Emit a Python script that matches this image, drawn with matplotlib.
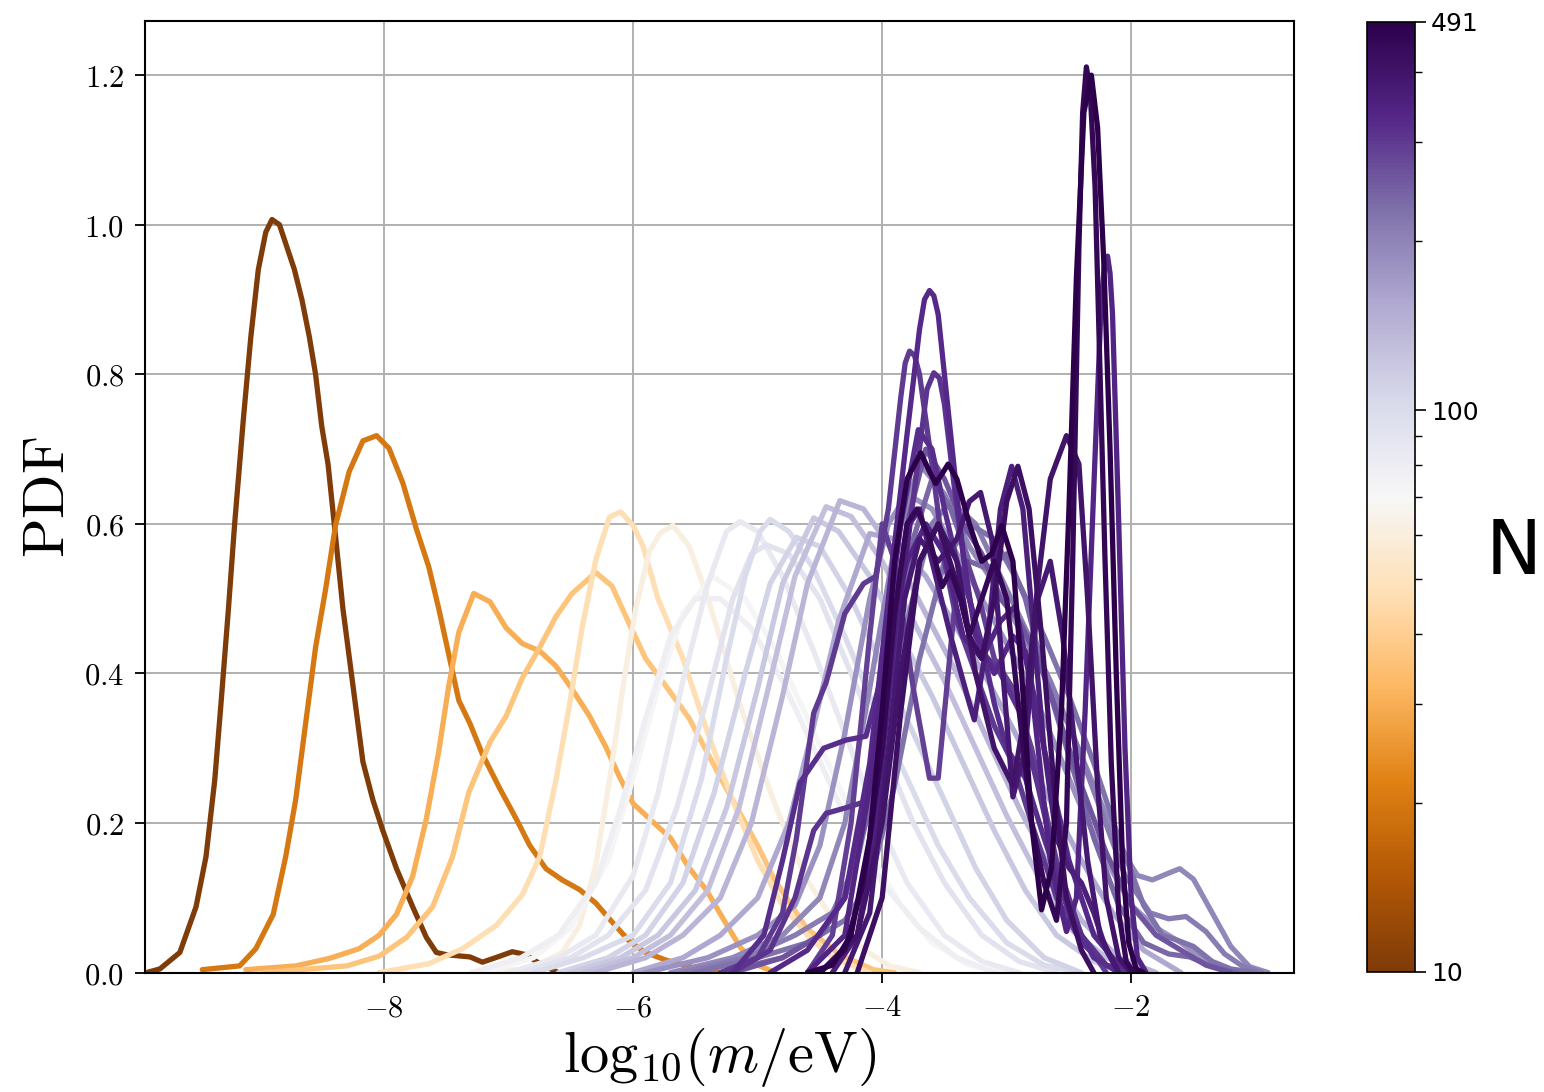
import matplotlib
matplotlib.use('Agg')
import matplotlib.pyplot as plt
from matplotlib.colors import LogNorm
from matplotlib.cm import ScalarMappable
from matplotlib.ticker import FuncFormatter, LogLocator

plt.rcParams['mathtext.fontset'] = 'cm'

# number of objects N for every curve (sets the colour)
curve_n = [10, 20, 30, 36, 47, 62,
           72, 78, 85, 92, 100, 110, 120, 130, 140, 155,
           180, 195, 210, 225, 240, 260,
           290, 300, 310, 320, 330, 340, 360, 380, 400, 420, 450, 491]

# log10(m/eV) positions, one list per curve
curve_x = [
    [-9.91, -9.8, -9.64, -9.51, -9.43, -9.36, -9.31, -9.25, -9.2, -9.13, -9.07, -9.01, -8.95, -8.9, -8.84,
     -8.78, -8.72, -8.66, -8.6, -8.55, -8.5, -8.45, -8.4, -8.33, -8.25, -8.17, -8.09, -8.01, -7.9, -7.77,
     -7.66, -7.58, -7.5, -7.31, -7.21, -7.07, -6.97, -6.86, -6.75, -6.6],
    [-9.46, -9.16, -9.03, -8.89, -8.79, -8.71, -8.63, -8.55, -8.47, -8.39, -8.28, -8.17, -8.06, -7.96, -7.85,
     -7.74, -7.64, -7.56, -7.48, -7.4, -7.31, -7.21, -7.07, -6.94, -6.83, -6.7, -6.57, -6.43, -6.3, -6.17,
     -6.03, -5.9, -5.74, -5.5, -5.3],
    [-9.11, -8.71, -8.44, -8.2, -8.04, -7.9, -7.77, -7.66, -7.56, -7.48, -7.4, -7.28, -7.15, -7.02, -6.89,
     -6.75, -6.62, -6.49, -6.35, -6.22, -6.11, -6.0, -5.87, -5.7, -5.55, -5.41, -5.27, -5.14, -5.0, -4.87],
    [-8.97, -8.3, -8.04, -7.82, -7.61, -7.45, -7.32, -7.15, -7.02, -6.89, -6.75, -6.62, -6.49, -6.3, -6.17,
     -6.03, -5.9, -5.74, -5.55, -5.28, -5.0, -4.87, -4.61, -4.34, -4.07, -3.9],
    [-8.04, -7.64, -7.37, -7.1, -6.89, -6.75, -6.62, -6.51, -6.41, -6.3, -6.19, -6.1, -6.0, -5.92, -5.8,
     -5.6, -5.4, -5.2, -5.0, -4.8, -4.6, -4.4, -4.1],
    [-7.3, -6.83, -6.57, -6.43, -6.3, -6.19, -6.08, -5.98, -5.87, -5.78, -5.68, -5.55, -5.41, -5.27, -5.14,
     -5.0, -4.87, -4.74, -4.61, -4.47, -4.34, -4.14, -3.94, -3.7],
    # pale lavender group
    [-7.2, -6.8, -6.5, -6.2, -6.0, -5.8, -5.6, -5.36, -5.1, -4.85, -4.6, -4.35, -4.1, -3.85, -3.6, -3.3, -3.0],
    [-7.3, -6.9, -6.6, -6.3, -6.1, -5.9, -5.7, -5.5, -5.3, -5.05, -4.8, -4.55, -4.3, -4.0, -3.7, -3.4, -3.1],
    [-7.0, -6.6, -6.3, -6.0, -5.8, -5.6, -5.4, -5.25, -5.14, -5.0, -4.8, -4.55, -4.3, -4.05, -3.8, -3.5,
     -3.2, -2.9],
    [-6.9, -6.5, -6.2, -5.9, -5.65, -5.4, -5.2, -5.05, -4.93, -4.75, -4.5, -4.25, -4.0, -3.75, -3.5, -3.2,
     -2.9, -2.6],
    [-6.8, -6.4, -6.0, -5.7, -5.45, -5.25, -5.1, -4.98, -4.9, -4.75, -4.55, -4.3, -4.05, -3.8, -3.55, -3.3,
     -3.0, -2.7, -2.4],
    [-6.6, -6.2, -5.9, -5.6, -5.35, -5.1, -4.9, -4.69, -4.5, -4.25, -4.0, -3.75, -3.5, -3.25, -3.0, -2.7, -2.4],
    [-6.5, -6.1, -5.8, -5.5, -5.25, -5.0, -4.8, -4.55, -4.35, -4.1, -3.85, -3.6, -3.35, -3.1, -2.85, -2.6,
     -2.3, -2.0],
    [-6.4, -6.0, -5.7, -5.4, -5.15, -4.9, -4.7, -4.45, -4.25, -4.0, -3.75, -3.5, -3.25, -3.0, -2.75, -2.5,
     -2.2, -1.9],
    [-6.3, -5.9, -5.6, -5.3, -5.05, -4.8, -4.6, -4.34, -4.15, -3.9, -3.65, -3.4, -3.15, -2.9, -2.65, -2.4,
     -2.1, -1.8],
    [-6.0, -5.6, -5.3, -5.0, -4.75, -4.55, -4.35, -4.1, -3.9, -3.65, -3.4, -3.15, -2.9, -2.65, -2.4, -2.15,
     -1.9, -1.6],
    # medium purple group
    [-5.9, -5.4, -5.0, -4.7, -4.5, -4.3, -4.1, -3.95, -3.8, -3.6, -3.4, -3.2, -3.0, -2.8, -2.6, -2.4, -2.2,
     -2.0, -1.8, -1.6, -1.4, -1.2],
    [-5.7, -5.2, -4.8, -4.5, -4.3, -4.1, -3.9, -3.7, -3.5, -3.3, -3.1, -2.9, -2.7, -2.5, -2.3, -2.1, -1.95,
     -1.83, -1.7, -1.61, -1.5, -1.35, -1.2, -1.05, -0.9],
    [-5.6, -5.1, -4.7, -4.4, -4.2, -4.0, -3.8, -3.6, -3.45, -3.25, -3.05, -2.85, -2.65, -2.45, -2.25, -2.05,
     -1.85, -1.7, -1.56, -1.4, -1.25, -1.1, -0.95],
    [-5.5, -5.0, -4.6, -4.3, -4.1, -3.9, -3.7, -3.5, -3.3, -3.1, -2.9, -2.7, -2.5, -2.3, -2.1, -1.9, -1.75,
     -1.64, -1.5, -1.35, -1.2, -1.0],
    [-5.3, -4.8, -4.5, -4.3, -4.1, -3.9, -3.75, -3.6, -3.45, -3.3, -3.15, -3.0, -2.85, -2.7, -2.5, -2.3, -2.1,
     -1.9, -1.7, -1.53, -1.35, -1.15],
    [-5.2, -4.8, -4.5, -4.3, -4.1, -3.95, -3.8, -3.65, -3.5, -3.35, -3.2, -3.05, -2.9, -2.75, -2.6, -2.4, -2.2,
     -2.0, -1.8, -1.6, -1.4, -1.2],
    # dark purple group
    [-4.6, -4.4, -4.25, -4.1, -4.0, -3.9, -3.75, -3.62, -3.55, -3.47, -3.4, -3.32, -3.22, -3.1, -2.95, -2.8,
     -2.6, -2.4, -2.2],
    [-5.3, -5.0, -4.8, -4.69, -4.55, -4.45, -4.3, -4.15, -4.05, -3.95, -3.85, -3.815, -3.78, -3.74, -3.7,
     -3.6, -3.5, -3.4, -3.25, -3.1, -2.95, -2.8, -2.6, -2.4, -2.2, -2.0],
    [-5.2, -4.9, -4.7, -4.55, -4.45, -4.3, -4.13, -4.0, -3.85, -3.7, -3.64, -3.585, -3.54, -3.5, -3.4, -3.3,
     -3.2, -3.05, -2.9, -2.75, -2.6, -2.4, -2.2, -2.0],
    [-5.2, -4.95, -4.8, -4.66, -4.47, -4.29, -4.13, -4.0, -3.85, -3.71, -3.6, -3.5, -3.4, -3.3, -3.2, -3.1,
     -3.0, -2.85, -2.7, -2.5, -2.3, -2.1],
    [-4.9, -4.6, -4.3, -4.1, -3.95, -3.8, -3.7, -3.66, -3.62, -3.585, -3.55, -3.45, -3.35, -3.25, -3.1, -2.95,
     -2.85, -2.7, -2.5, -2.3, -2.1, -1.9],
    [-4.6, -4.3, -4.1, -3.95, -3.8, -3.65, -3.5, -3.35, -3.2, -3.05, -2.93, -2.8, -2.65, -2.52, -2.44, -2.37,
     -2.3, -2.24, -2.215, -2.19, -2.17, -2.15, -2.1, -2.05, -2.0, -1.95, -1.88],
    [-4.4, -4.2, -4.05, -3.9, -3.78, -3.7, -3.6, -3.45, -3.3, -3.26, -3.15, -3.05, -2.96, -2.87, -2.78, -2.7,
     -2.6, -2.5, -2.4, -2.3, -2.2, -2.1],
    [-4.3, -4.1, -3.95, -3.82, -3.7, -3.55, -3.4, -3.3, -3.21, -3.12, -3.03, -2.95, -2.85, -2.75, -2.65, -2.55,
     -2.45, -2.35, -2.25, -2.1],
    [-4.5, -4.2, -4.0, -3.85, -3.7, -3.55, -3.4, -3.25, -3.1, -2.95, -2.85, -2.75, -2.65, -2.52, -2.42, -2.35,
     -2.27, -2.2, -2.1, -2.0],
    [-4.2, -4.0, -3.85, -3.7, -3.55, -3.4, -3.3, -3.2, -3.1, -3.0, -2.91, -2.82, -2.72, -2.62, -2.52, -2.4,
     -2.3],
    [-4.5, -4.3, -4.15, -4.0, -3.9, -3.8, -3.72, -3.62, -3.52, -3.45, -3.37, -3.3, -3.2, -3.1, -3.0, -2.9,
     -2.8, -2.7, -2.6, -2.52, -2.47, -2.42, -2.39, -2.36, -2.33, -2.29, -2.25, -2.21, -2.16, -2.1, -2.04,
     -1.98],
    [-4.6, -4.4, -4.25, -4.1, -4.0, -3.9, -3.8, -3.69, -3.62, -3.57, -3.5, -3.47, -3.4, -3.3, -3.2, -3.12,
     -3.04, -2.95, -2.88, -2.8, -2.72, -2.64, -2.56, -2.5, -2.44, -2.38, -2.32, -2.27, -2.22, -2.17, -2.12,
     -2.07, -2.02, -1.96, -1.9],
]

# PDF values at those positions
curve_y = [
    [0.0, 0.005, 0.027, 0.088, 0.155, 0.257, 0.359, 0.486, 0.6, 0.74, 0.85, 0.94, 0.99, 1.007, 1.0,
     0.97, 0.94, 0.9, 0.85, 0.8, 0.73, 0.68, 0.6, 0.486, 0.384, 0.282, 0.231, 0.19, 0.139, 0.088,
     0.047, 0.027, 0.024, 0.021, 0.014, 0.022, 0.028, 0.024, 0.012, 0.0],
    [0.004, 0.009, 0.032, 0.078, 0.155, 0.231, 0.333, 0.435, 0.512, 0.598, 0.67, 0.711, 0.718, 0.701, 0.655,
     0.593, 0.542, 0.486, 0.425, 0.364, 0.333, 0.292, 0.246, 0.206, 0.17, 0.139, 0.124, 0.111, 0.093, 0.068,
     0.042, 0.027, 0.017, 0.006, 0.0],
    [0.004, 0.009, 0.019, 0.032, 0.05, 0.078, 0.129, 0.206, 0.297, 0.384, 0.455, 0.507, 0.496, 0.461, 0.44,
     0.43, 0.41, 0.379, 0.343, 0.302, 0.262, 0.226, 0.206, 0.18, 0.14, 0.11, 0.07, 0.034, 0.01, 0.001],
    [0.0, 0.009, 0.022, 0.047, 0.088, 0.155, 0.241, 0.308, 0.343, 0.394, 0.435, 0.476, 0.507, 0.535, 0.517,
     0.466, 0.42, 0.384, 0.34, 0.255, 0.17, 0.126, 0.06, 0.024, 0.004, 0.0],
    [0.0, 0.012, 0.032, 0.063, 0.104, 0.155, 0.257, 0.359, 0.461, 0.552, 0.609, 0.616, 0.598, 0.57, 0.5,
     0.42, 0.32, 0.23, 0.15, 0.09, 0.05, 0.02, 0.0],
    [0.0, 0.005, 0.027, 0.063, 0.144, 0.257, 0.384, 0.486, 0.563, 0.588, 0.598, 0.57, 0.506, 0.43, 0.357,
     0.29, 0.229, 0.175, 0.126, 0.09, 0.06, 0.03, 0.009, 0.0],
    [0.0, 0.02, 0.06, 0.15, 0.26, 0.38, 0.48, 0.53, 0.5, 0.43, 0.34, 0.25, 0.16, 0.09, 0.04, 0.01, 0.0],
    [0.0, 0.02, 0.05, 0.12, 0.22, 0.34, 0.45, 0.5, 0.5, 0.46, 0.39, 0.3, 0.21, 0.12, 0.06, 0.02, 0.0],
    [0.0, 0.02, 0.05, 0.13, 0.24, 0.39, 0.52, 0.59, 0.603, 0.59, 0.53, 0.43, 0.32, 0.21, 0.12, 0.05,
     0.015, 0.0],
    [0.0, 0.02, 0.05, 0.11, 0.22, 0.37, 0.5, 0.56, 0.572, 0.56, 0.5, 0.4, 0.3, 0.2, 0.12, 0.05, 0.015, 0.0],
    [0.0, 0.02, 0.05, 0.12, 0.26, 0.42, 0.53, 0.59, 0.606, 0.59, 0.54, 0.45, 0.35, 0.26, 0.17, 0.1,
     0.04, 0.01, 0.0],
    [0.0, 0.02, 0.05, 0.12, 0.24, 0.4, 0.52, 0.582, 0.57, 0.5, 0.41, 0.32, 0.23, 0.14, 0.07, 0.02, 0.0],
    [0.0, 0.02, 0.05, 0.11, 0.22, 0.38, 0.52, 0.608, 0.59, 0.53, 0.45, 0.37, 0.28, 0.19, 0.11, 0.05,
     0.015, 0.0],
    [0.0, 0.02, 0.05, 0.11, 0.22, 0.39, 0.53, 0.623, 0.61, 0.55, 0.47, 0.39, 0.3, 0.21, 0.13, 0.06,
     0.02, 0.0],
    [0.0, 0.02, 0.05, 0.1, 0.2, 0.37, 0.52, 0.631, 0.62, 0.56, 0.48, 0.4, 0.31, 0.22, 0.14, 0.07,
     0.02, 0.0],
    [0.0, 0.02, 0.05, 0.1, 0.2, 0.33, 0.47, 0.587, 0.58, 0.53, 0.46, 0.39, 0.31, 0.23, 0.15, 0.08,
     0.03, 0.0],
    [0.0, 0.02, 0.05, 0.09, 0.17, 0.32, 0.5, 0.6, 0.64, 0.62, 0.56, 0.5, 0.44, 0.38, 0.3, 0.22, 0.15,
     0.09, 0.06, 0.04, 0.015, 0.0],
    [0.0, 0.02, 0.05, 0.1, 0.2, 0.38, 0.57, 0.68, 0.64, 0.57, 0.52, 0.46, 0.4, 0.33, 0.25, 0.17, 0.13,
     0.124, 0.133, 0.139, 0.125, 0.08, 0.035, 0.008, 0.0],
    [0.0, 0.02, 0.05, 0.08, 0.15, 0.3, 0.47, 0.6, 0.63, 0.6, 0.53, 0.46, 0.39, 0.31, 0.22, 0.13,
     0.08, 0.072, 0.075, 0.055, 0.025, 0.008, 0.0],
    [0.0, 0.02, 0.04, 0.07, 0.12, 0.25, 0.42, 0.55, 0.6, 0.58, 0.52, 0.45, 0.37, 0.28, 0.18, 0.09, 0.05,
     0.044, 0.035, 0.015, 0.005, 0.0],
    [0.0, 0.02, 0.05, 0.1, 0.22, 0.42, 0.58, 0.66, 0.62, 0.55, 0.54, 0.56, 0.5, 0.4, 0.29, 0.18, 0.09,
     0.04, 0.025, 0.021, 0.008, 0.0],
    [0.0, 0.02, 0.05, 0.1, 0.24, 0.42, 0.6, 0.7, 0.66, 0.6, 0.56, 0.5, 0.47, 0.42, 0.35, 0.25, 0.16,
     0.09, 0.05, 0.03, 0.01, 0.0],
    [0.0, 0.05, 0.2, 0.45, 0.6, 0.55, 0.38, 0.26, 0.26, 0.4, 0.52, 0.55, 0.5, 0.42, 0.38, 0.3,
     0.15, 0.05, 0.0],
    [0.0, 0.02, 0.08, 0.178, 0.347, 0.388, 0.48, 0.52, 0.53, 0.62, 0.77, 0.815, 0.831, 0.825, 0.8,
     0.68, 0.55, 0.47, 0.4, 0.33, 0.28, 0.2, 0.1, 0.04, 0.01, 0.0],
    [0.0, 0.03, 0.1, 0.19, 0.213, 0.22, 0.229, 0.3, 0.5, 0.7, 0.78, 0.802, 0.795, 0.76, 0.62, 0.5,
     0.43, 0.4, 0.35, 0.25, 0.14, 0.05, 0.01, 0.0],
    [0.0, 0.05, 0.15, 0.254, 0.3, 0.311, 0.316, 0.4, 0.6, 0.726, 0.7, 0.62, 0.55, 0.5, 0.44, 0.36,
     0.3, 0.26, 0.18, 0.08, 0.02, 0.0],
    [0.0, 0.03, 0.1, 0.28, 0.5, 0.72, 0.86, 0.9, 0.912, 0.905, 0.88, 0.72, 0.56, 0.45, 0.4, 0.45,
     0.43, 0.3, 0.15, 0.05, 0.01, 0.0],
    [0.0, 0.05, 0.25, 0.45, 0.55, 0.6, 0.56, 0.45, 0.42, 0.47, 0.49, 0.38, 0.15, 0.055, 0.1, 0.35,
     0.65, 0.9, 0.945, 0.958, 0.935, 0.88, 0.6, 0.3, 0.1, 0.02, 0.0],
    [0.0, 0.05, 0.2, 0.45, 0.6, 0.62, 0.55, 0.45, 0.36, 0.338, 0.45, 0.62, 0.677, 0.62, 0.45, 0.3,
     0.18, 0.14, 0.12, 0.08, 0.03, 0.0],
    [0.0, 0.08, 0.3, 0.5, 0.58, 0.55, 0.58, 0.63, 0.642, 0.58, 0.4, 0.235, 0.3, 0.5, 0.55, 0.45,
     0.3, 0.15, 0.05, 0.0],
    [0.0, 0.05, 0.2, 0.4, 0.55, 0.6, 0.55, 0.4, 0.3, 0.25, 0.35, 0.52, 0.66, 0.718, 0.68, 0.5,
     0.25, 0.1, 0.02, 0.0],
    [0.0, 0.1, 0.35, 0.55, 0.6, 0.52, 0.45, 0.42, 0.5, 0.63, 0.677, 0.62, 0.45, 0.25, 0.1, 0.03, 0.0],
    [0.0, 0.03, 0.12, 0.3, 0.48, 0.6, 0.62, 0.58, 0.516, 0.537, 0.5, 0.45, 0.5, 0.55, 0.5, 0.35,
     0.2, 0.12, 0.07, 0.2, 0.55, 0.97, 1.15, 1.211, 1.18, 1.05, 0.8, 0.55, 0.28, 0.08, 0.015, 0.0],
    [0.0, 0.01, 0.05, 0.18, 0.35, 0.55, 0.66, 0.695, 0.67, 0.654, 0.672, 0.68, 0.66, 0.6, 0.55, 0.56,
     0.598, 0.55, 0.4, 0.2, 0.084, 0.14, 0.35, 0.62, 0.93, 1.15, 1.2, 1.13, 0.95, 0.7, 0.4,
     0.15, 0.04, 0.005, 0.0],
]

n_ticks = [10, 100, 491]

fig = plt.figure(figsize=(15.44, 10.92), dpi=100)
ax = fig.add_axes([0.0939, 0.1093, 0.7444, 0.8712])
cax = fig.add_axes([0.8854, 0.1099, 0.0311, 0.8700])

norm = LogNorm(vmin=10, vmax=491)
cmap = plt.get_cmap('PuOr')

for n, xs, ys in zip(curve_n, curve_x, curve_y):
    ax.plot(xs, ys, color=cmap(norm(n)), lw=3.8, solid_capstyle='round', solid_joinstyle='round')

ax.set_xlim(-9.92, -0.69)
ax.set_ylim(0, 1.272)
ax.set_xticks([-8, -6, -4, -2])
ax.set_yticks([0.0, 0.2, 0.4, 0.6, 0.8, 1.0, 1.2])
ax.xaxis.set_major_formatter(FuncFormatter(lambda v, p: f'${v:g}$'))
ax.yaxis.set_major_formatter(FuncFormatter(lambda v, p: f'${v:.1f}$'))
ax.tick_params(labelsize=22, length=7, width=1.3, pad=8)
ax.grid(True, color='#b0b0b0', lw=1.4)
ax.set_axisbelow(True)
for s in ax.spines.values():
    s.set_linewidth(1.5)

ax.set_xlabel(r'$\mathrm{log}_{10}(m/\mathrm{eV})$', fontsize=42, labelpad=2)
ax.set_ylabel(r'$\mathrm{PDF}$', fontsize=42, labelpad=6)

sm = ScalarMappable(norm=norm, cmap=cmap)
cb = fig.colorbar(sm, cax=cax)
cb.set_ticks(n_ticks)
cb.set_ticklabels([str(t) for t in n_ticks])
cax.yaxis.set_minor_locator(LogLocator(subs=range(2, 10)))
cax.yaxis.set_minor_formatter(plt.NullFormatter())
cax.tick_params(which='major', labelsize=18, length=8, width=1.2)
cax.tick_params(which='minor', length=5, width=1.0)
cb.outline.set_linewidth(1.2)
cb.set_label('N', rotation=0, fontsize=54, ha='center', va='center')
cax.yaxis.set_label_coords(3.05, 0.44)

fig.savefig('out.png', dpi=100)
